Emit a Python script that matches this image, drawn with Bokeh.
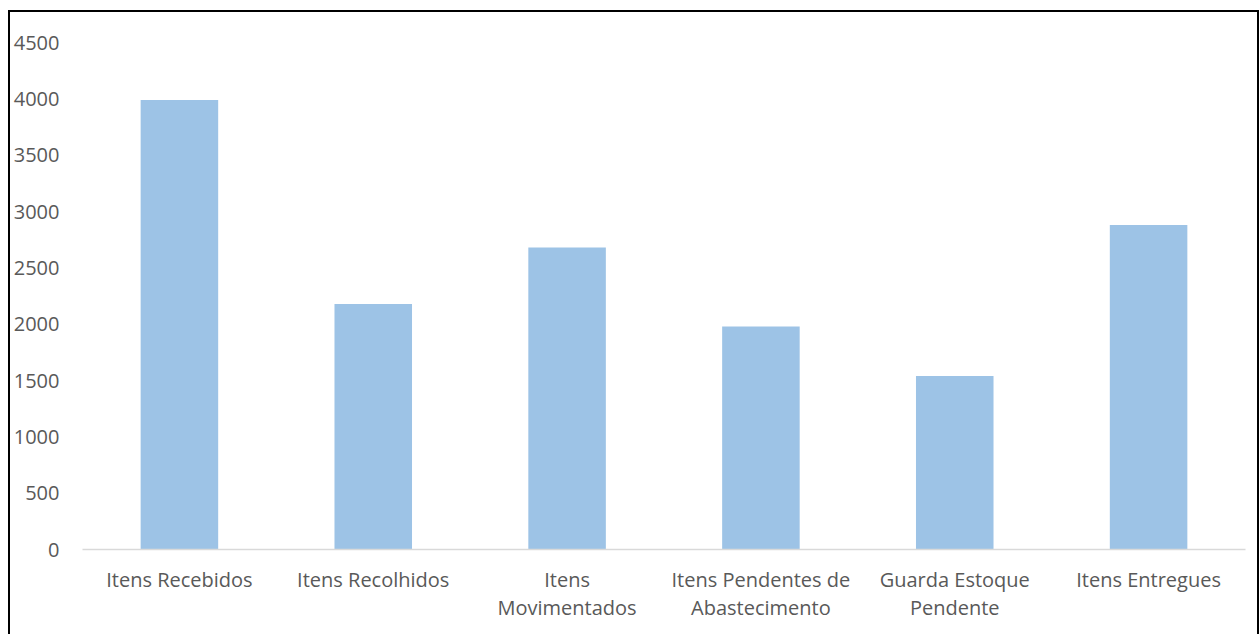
from bokeh.plotting import figure
from bokeh.models import ColumnDataSource, FixedTicker, Range1d
from bokeh.embed import file_html
from bokeh.resources import INLINE

categories = ["Itens Recebidos", "Itens Recolhidos", "Itens\nMovimentados",
              "Itens Pendentes de\nAbastecimento", "Guarda Estoque\nPendente", "Itens Entregues"]
values = [3990, 2180, 2680, 1980, 1540, 2880]
y_ticks = [0, 500, 1000, 1500, 2000, 2500, 3000, 3500, 4000, 4500]

src = ColumnDataSource(dict(cat=categories, val=values))

p = figure(x_range=categories, y_range=Range1d(0, 4500),
           frame_width=1163, frame_height=507,
           output_backend="svg", toolbar_location=None,
           min_border_left=60, min_border_right=12, min_border_top=30, min_border_bottom=85)
p.margin = (10, 0, 0, 8)
p.styles = {"border-top": "2px solid #000", "border-left": "2px solid #000",
            "border-right": "2px solid #000"}
p.vbar(x="cat", top="val", width=0.4, source=src, fill_color="#9DC3E6", line_color=None)

p.outline_line_color = None
p.grid.grid_line_color = None
p.yaxis.ticker = FixedTicker(ticks=y_ticks)
p.yaxis.axis_line_color = None
p.yaxis.major_tick_line_color = None
p.yaxis.minor_tick_line_color = None
p.yaxis.major_label_text_font = "Open Sans"
p.yaxis.major_label_text_font_size = "20px"
p.yaxis.major_label_text_color = "#595959"
p.yaxis.major_label_standoff = 17

p.xaxis.axis_line_color = "#D9D9D9"
p.xaxis.axis_line_width = 1.5
p.xaxis.major_tick_line_color = None
p.xaxis.minor_tick_line_color = None
p.xaxis.major_label_text_font = "Open Sans"
p.xaxis.major_label_text_font_size = "20px"
p.xaxis.major_label_text_color = "#595959"
p.xaxis.major_label_text_line_height = 1.05
p.xaxis.major_label_standoff = 10

open("out.html", "w").write(file_html(p, INLINE))
